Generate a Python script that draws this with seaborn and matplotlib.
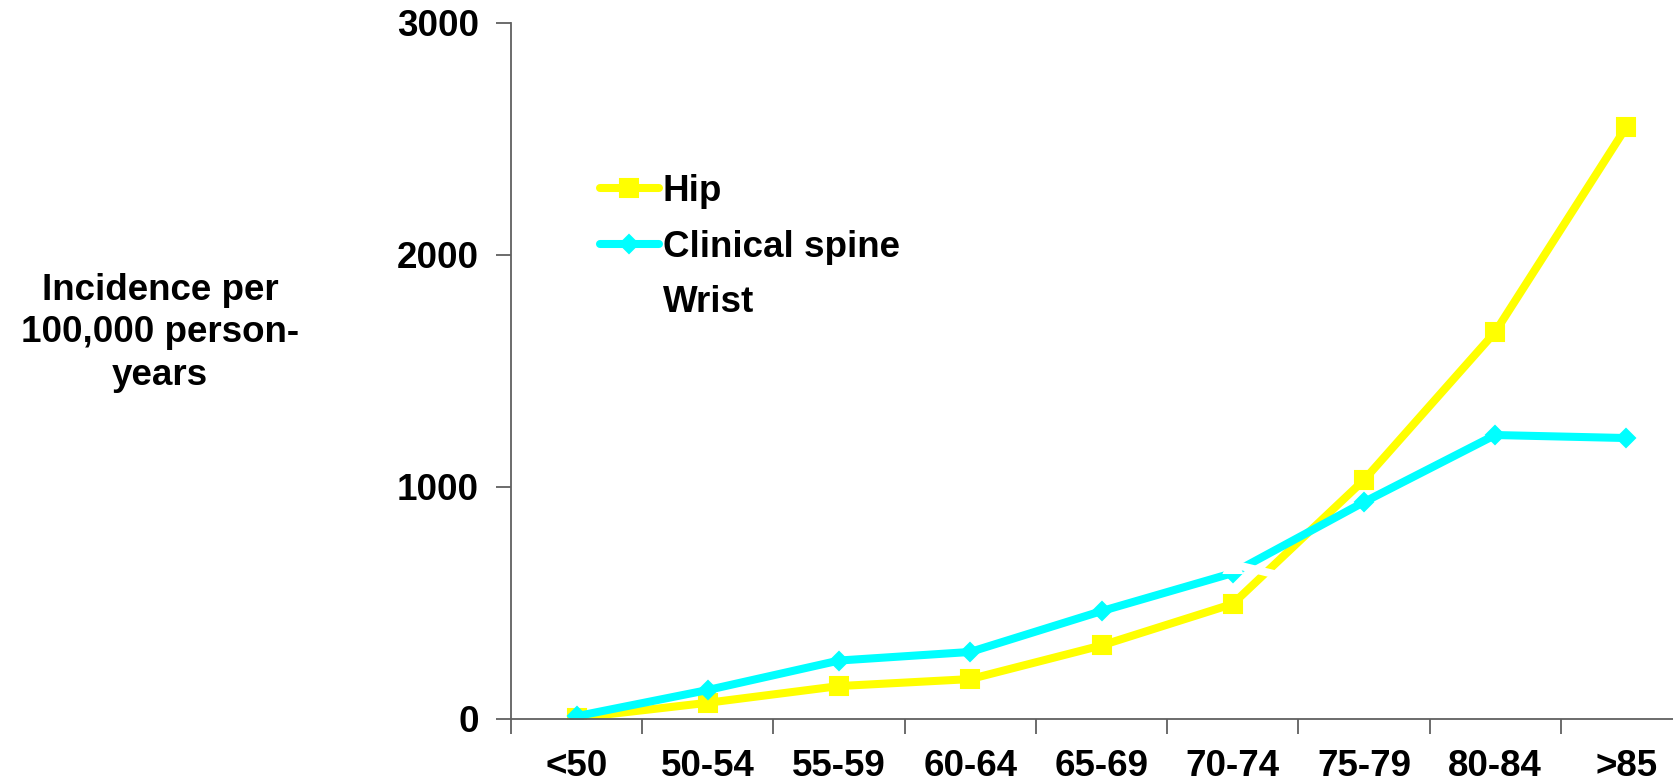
import matplotlib
matplotlib.use("Agg")
import matplotlib.pyplot as plt
import seaborn as sns
import pandas as pd
import numpy as np

categories = ["<50", "50-54", "55-59", "60-64", "65-69", "70-74", "75-79", "80-84", ">85"]
hip = [5, 70, 142, 172, 317, 496, 1030, 1668, 2552]
spine = [12, 125, 252, 289, 465, 629, 935, 1224, 1211]
wrist = [110, 260, 400, 500, 600, 668, 530, 580, 640]
series_names = ["Hip", "Clinical spine", "Wrist"]
series_colors = {"Hip": "#FFFF00", "Clinical spine": "#00FFFF", "Wrist": "#FFFFFF"}
series_markers = {"Hip": "s", "Clinical spine": "D", "Wrist": "^"}
yticks = [0, 1000, 2000, 3000]
ylabel = "Incidence per\n100,000 person-\nyears"

rows = []
for name, vals in zip(series_names, [hip, spine, wrist]):
    for i, (c, v) in enumerate(zip(categories, vals)):
        rows.append({"pos": i, "Age": c, "Site": name, "Incidence": v})
df = pd.DataFrame(rows)

sns.set_theme(style="white")
plt.rcParams["font.family"] = ["Liberation Sans", "DejaVu Sans"]
plt.rcParams["font.weight"] = "bold"
plt.rcParams["text.color"] = "black"
plt.rcParams["xtick.color"] = "black"
plt.rcParams["ytick.color"] = "black"

fig = plt.figure(figsize=(16.73, 7.82), dpi=100)
ax = fig.add_axes([511 / 1673, 63 / 782, 1181 / 1673, 696 / 782])

sns.lineplot(data=df, x="pos", y="Incidence", hue="Site", style="Site",
             hue_order=series_names, style_order=series_names,
             palette=series_colors, markers=series_markers, dashes=False,
             linewidth=5.8, markersize=13.5, ax=ax, legend=True)

for line in ax.lines:
    c = line.get_color()
    line.set_markeredgecolor(c)
    line.set_markerfacecolor(c)
    line.set_solid_joinstyle("round")
    line.set_markeredgewidth(1.5)
for line in ax.lines:
    if line.get_marker() == "D":
        line.set_markersize(9)

ax.set_xlim(-0.5, len(categories) - 0.5)
ax.set_ylim(0, 3000)
ax.set_xticks(range(len(categories)))
ax.set_xticklabels(categories)
ax.set_xticks(np.arange(-0.5, len(categories), 1.0), minor=True)
ax.set_yticks(yticks)
ax.set_yticklabels([str(t) for t in yticks])
ax.tick_params(axis="x", which="major", length=0, pad=21.5, labelsize=26.5, labelcolor="black")
ax.tick_params(axis="x", which="minor", length=11, width=1.3, color="#606060", direction="out", bottom=True)
ax.tick_params(axis="y", which="major", length=11, width=1.3, color="#606060", direction="out", left=True, pad=12, labelsize=26.5, labelcolor="black")
for lab in ax.get_xticklabels() + ax.get_yticklabels():
    lab.set_fontweight("bold")
    lab.set_color("black")

for s in ["top", "right"]:
    ax.spines[s].set_visible(False)
for s in ["left", "bottom"]:
    ax.spines[s].set_color("#606060")
    ax.spines[s].set_linewidth(1.3)
ax.set_xlabel("")
ax.set_ylabel("")

handles, labels = ax.get_legend_handles_labels()
leg = ax.legend(handles, labels, loc="upper left", bbox_to_anchor=(600 / 1673, 1 - 174 / 782),
                bbox_transform=fig.transFigure, frameon=False, borderpad=0, borderaxespad=0,
                handlelength=1.6, handletextpad=0.1, labelspacing=0.56,
                prop={"size": 26.5, "weight": "bold"})
for h in leg.get_lines():
    h.set_linewidth(5.8)
for t in leg.get_texts():
    t.set_color("black")

fig.text(160 / 1673, 1 - 333 / 782, ylabel, ha="center", va="center", multialignment="center",
         fontsize=26.5, fontweight="bold", linespacing=1.27, color="black")

fig.savefig("out.png", dpi=100, facecolor="white")
